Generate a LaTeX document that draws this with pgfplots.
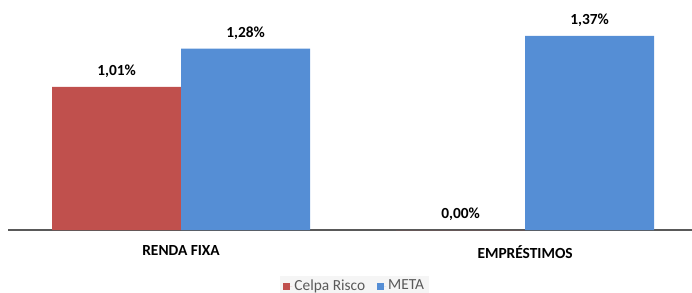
\documentclass[border=0pt]{standalone}
\usepackage{fontspec}
\setmainfont{Carlito}
\usepackage{pgfplots}
\pgfplotsset{compat=1.18}
\definecolor{cred}{HTML}{C0504D}
\definecolor{cblue}{HTML}{558ED5}
\definecolor{axgray}{HTML}{595959}
\begin{document}
\fontsize{15.4bp}{18.5bp}\selectfont
\begin{tikzpicture}
\begin{axis}[
  at={(0,0)}, anchor=south west,
  scale only axis, width=684bp, height=230bp,
  xmin=-0.503, xmax=1.485, ymin=0, ymax=1.624,
  ybar=0pt, bar width=129bp,
  axis y line=none, axis x line*=bottom,
  x axis line style={-, line width=1.6bp, color=axgray},
  xtick={0,1}, xticklabels={RENDA FIXA, EMPRÉSTIMOS},
  major tick length=0pt,
  xticklabel style={font=\bfseries, text=black, yshift=-10bp},
  clip=false,
  point meta=explicit symbolic,
  nodes near coords,
  nodes near coords style={font=\bfseries, text=black, anchor=south, yshift=4bp},
  legend columns=2,
  legend style={at={(0.507,0)}, anchor=center, yshift=-56bp, draw=none, fill=black!4,
    font=\color{axgray}, /tikz/every even column/.append style={column sep=10bp}},
  legend image code/.code={\path[#1,draw=none] (0bp,-3.5bp) rectangle (7bp,3.5bp); \path (0bp,0bp) -- (9bp,0bp);},
]
\addplot[fill=cred, draw=none] coordinates {(0,1.01) [1,01\%] (1,0) [0,00\%]};
\addplot[fill=cblue, draw=none] coordinates {(0,1.28) [1,28\%] (1,1.37) [1,37\%]};
\legend{Celpa Risco, META}
\end{axis}
\pgfresetboundingbox
\path[use as bounding box] (-8bp,-63bp) rectangle (684bp,230bp);
\end{tikzpicture}
\end{document}
